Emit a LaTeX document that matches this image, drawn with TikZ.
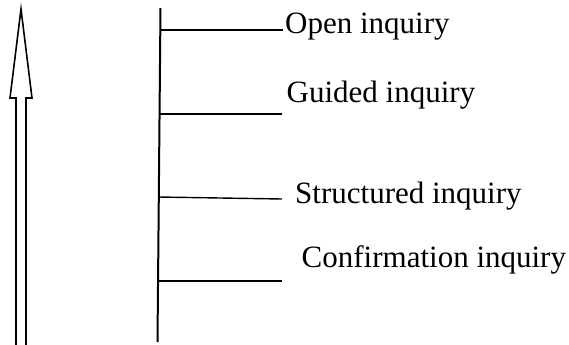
\documentclass[tikz,border=0pt]{standalone}
\usepackage{fontspec}
\setmainfont{Liberation Serif}
\usepackage{tikz}

\begin{document}
\begin{tikzpicture}[x=0.5pt, y=-0.5pt, line width=0.7pt]
        \useasboundingbox (0, 0) rectangle (569, 344);

        % hollow arrow
        \draw[line width=0.8pt, line join=miter] (16, 346) -- (16, 98) -- (10, 98) -- (21, 9) -- (32, 98) -- (26, 98) -- (26, 346);

        % vertical axis
        \coordinate (top) at (160.5, 8);
        \coordinate (bot) at (157.5, 342);
        \draw[line width=1pt] (top) -- (bot);

        % levels
        \coordinate (t1) at (160.2, 30);   \coordinate (e1) at (283, 30);
        \coordinate (t2) at (159.5, 114);  \coordinate (e2) at (282, 114);
        \coordinate (t3) at (158.8, 197);  \coordinate (e3) at (282, 199);
        \coordinate (t4) at (158.2, 281);  \coordinate (e4) at (282, 281);
        \draw (t1) -- (e1);
        \draw (t2) -- (e2);
        \draw (t3) -- (e3);
        \draw (t4) -- (e4);

        \node[anchor=base west, inner sep=0pt, font=\fontsize{15.5}{18}\selectfont] (open) at (284.5, 33) {Open inquiry};
        \node[anchor=base west, inner sep=0pt, font=\fontsize{15.5}{18}\selectfont] (guided) at (286, 102) {Guided inquiry};
        \node[anchor=base west, inner sep=0pt, font=\fontsize{15.5}{18}\selectfont] (struct) at (294.5, 203) {Structured inquiry};
        \node[anchor=base west, inner sep=0pt, font=\fontsize{15.5}{18}\selectfont] (confirm) at (301, 267) {Confirmation inquiry};
    \end{tikzpicture}
\end{document}
